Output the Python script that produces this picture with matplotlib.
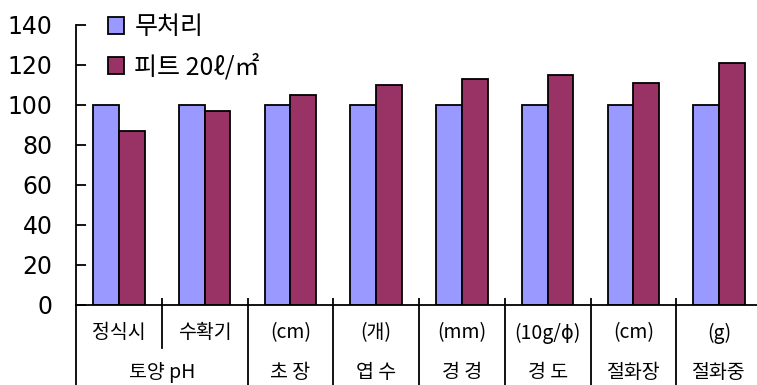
#!/usr/bin/env python3
"""
Grouped bar chart: untreated vs peat 20 l/m2, relative index per trait.
"""

import matplotlib.pyplot as plt
import matplotlib.patches as mpatches
import numpy as np

plt.rcParams['font.family'] = ['Noto Sans CJK KR', 'DejaVu Sans']

# data
top_labels = ['정식시', '수확기', '(cm)', '(개)', '(mm)', '(10g/ϕ)', '(cm)', '(g)']
bottom_labels = ['토양 pH', '초 장', '엽 수', '경 경', '경 도', '절화장', '절화중']
bottom_spans = [(0, 1), (2, 2), (3, 3), (4, 4), (5, 5), (6, 6), (7, 7)]
control = [100, 100, 100, 100, 100, 100, 100, 100]
peat = [87, 97, 105, 110, 113, 115, 111, 121]
y_ticks = [0, 20, 40, 60, 80, 100, 120, 140]
series_names = ['무처리', '피트 20ℓ/㎡']
colors = ['#9999ff', '#993366']

W, H = 757, 385
fig = plt.figure(figsize=(W / 100, H / 100), dpi=100)
ax = fig.add_axes([76 / W, 80 / H, 686 / W, 280 / H])

x = np.arange(len(control))
bw = 0.3
ax.bar(x - bw / 2, control, bw, color=colors[0], edgecolor='black', linewidth=1.3)
ax.bar(x + bw / 2, peat, bw, color=colors[1], edgecolor='black', linewidth=1.3)

ax.set_xlim(-0.5, len(x) - 0.5)
ax.set_ylim(0, 140)
ax.set_yticks(y_ticks)
ax.set_yticklabels([str(v) for v in y_ticks], fontfamily='DejaVu Sans', fontsize=17)
ax.tick_params(axis='y', direction='in', length=7, width=1.3, pad=17)
ax.set_xticks(np.arange(0.5, len(x) - 0.5, 1))
ax.tick_params(axis='x', direction='in', length=5, width=1.3, labelbottom=False)

for side in ['top', 'right']:
    ax.spines[side].set_visible(False)
ax.spines['left'].set_linewidth(1.3)
ax.spines['bottom'].set_linewidth(1.3)

trans = ax.get_xaxis_transform()
# category text rows
for i, t in enumerate(top_labels):
    ax.text(i, -0.1, t, transform=trans, ha='center', va='center', fontsize=14)
for (a, b), t in zip(bottom_spans, bottom_labels):
    ax.text((a + b) / 2, -0.24, t, transform=trans, ha='center', va='center', fontsize=14)

# separator lines under the axis
ax.plot([-0.5, -0.5], [0, -0.3], transform=trans, color='black', lw=1.3, clip_on=False)
ax.plot([0.5, 0.5], [0, -0.155], transform=trans, color='black', lw=1.3, clip_on=False)
for b in np.arange(1.5, len(x), 1):
    ax.plot([b, b], [0, -0.3], transform=trans, color='black', lw=1.3, clip_on=False)

handles = [mpatches.Patch(facecolor=c, edgecolor='black', linewidth=1.3) for c in colors]
ax.legend(handles, series_names, loc='upper left', bbox_to_anchor=(108 / W, 1 - 14 / H),
          bbox_transform=fig.transFigure, frameon=False, fontsize=18,
          handlelength=0.65, handleheight=0.65, handletextpad=0.4, labelspacing=0.55,
          borderpad=0, borderaxespad=0)

fig.savefig('out.png', dpi=100)
